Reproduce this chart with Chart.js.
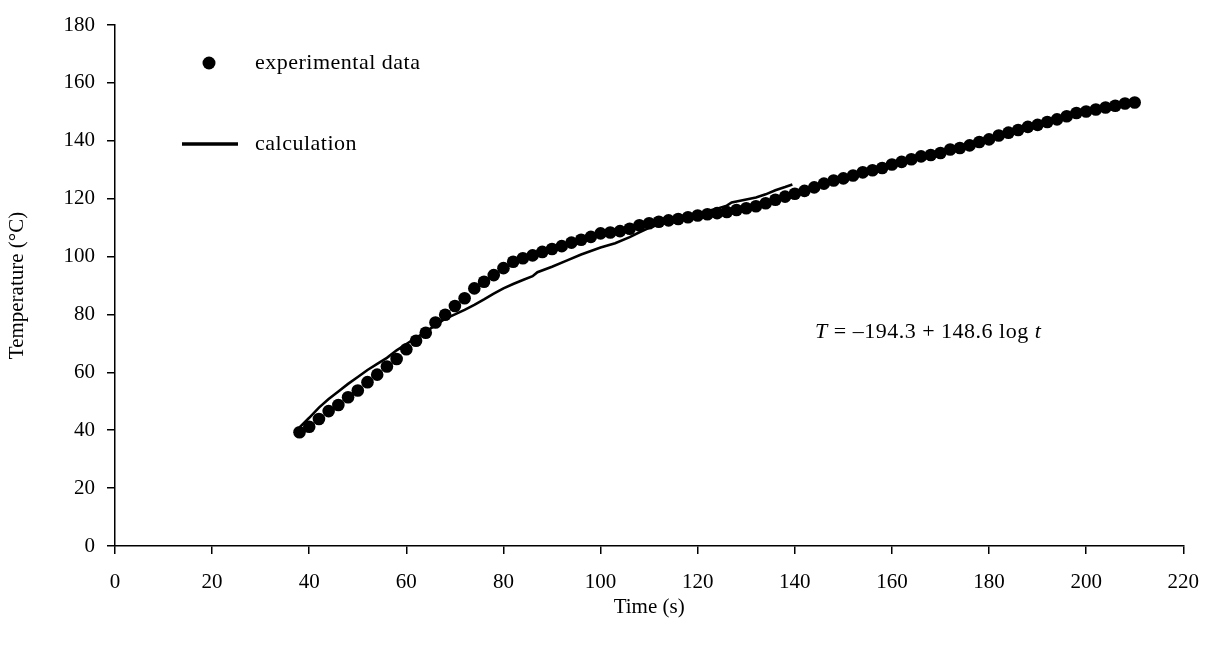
<!DOCTYPE html>
<html>
<head>
<meta charset="utf-8">
<script src="https://cdn.jsdelivr.net/npm/chart.js@4.4.1/dist/chart.umd.min.js"></script>
<style>
  html, body { margin: 0; padding: 0; background: #fff; }
  #wrap { width: 1215px; height: 646px; position: relative; }
</style>
</head>
<body>
<div id="wrap"><canvas id="tempChart"></canvas></div>
<script>
// experimental data (s, °C)
const expTime = [38, 40, 42, 44, 46, 48, 50, 52, 54, 56, 58, 60, 62, 64, 66, 68, 70, 72, 74, 76,
  78, 80, 82, 84, 86, 88, 90, 92, 94, 96, 98, 100, 102, 104, 106, 108, 110, 112, 114, 116,
  118, 120, 122, 124, 126, 128, 130, 132, 134, 136, 138, 140, 142, 144, 146, 148, 150, 152, 154, 156,
  158, 160, 162, 164, 166, 168, 170, 172, 174, 176, 178, 180, 182, 184, 186, 188, 190, 192, 194, 196,
  198, 200, 202, 204, 206, 208, 210];
const expTemp = [39.3, 41.2, 43.9, 46.6, 48.7, 51.4, 53.7, 56.6, 59.2, 62.0, 64.6, 68.0, 70.9, 73.7, 77.2, 79.9, 82.9, 85.6, 89.0, 91.3,
  93.6, 96.0, 98.2, 99.4, 100.4, 101.6, 102.6, 103.6, 104.8, 105.8, 106.8, 108.0, 108.3, 108.8, 109.6, 110.8, 111.5, 112.0, 112.5, 113.0,
  113.6, 114.2, 114.6, 115.0, 115.4, 116.1, 116.7, 117.4, 118.4, 119.6, 120.7, 121.7, 122.7, 123.9, 125.2, 126.3, 127.0, 128.0, 129.1, 129.8,
  130.6, 131.8, 132.7, 133.6, 134.6, 135.1, 135.8, 137.0, 137.5, 138.4, 139.6, 140.5, 141.8, 142.8, 143.7, 144.8, 145.5, 146.5, 147.4, 148.5,
  149.6, 150.1, 150.8, 151.5, 152.1, 152.9, 153.2];

// calculation curve
const calcTime = [38, 40, 42, 44, 46, 48, 50, 52, 54, 56, 58, 60, 62, 64, 66, 68, 70, 72, 74, 76,
  78, 80, 82, 84, 86, 87, 90, 93, 96, 100, 103, 106, 108, 110, 112, 114, 116, 118, 120, 122,
  124, 126, 127, 130, 132, 134, 136, 138, 139.5];
const calcTemp = [41.0, 44.3, 47.8, 50.8, 53.4, 56.0, 58.4, 60.8, 62.9, 65.0, 67.6, 69.8, 71.9, 74.0, 76.3, 78.5, 80.0, 81.6, 83.3, 85.2,
  87.2, 89.0, 90.5, 91.9, 93.2, 94.6, 96.5, 98.6, 100.7, 103.1, 104.6, 106.7, 108.4, 109.9, 111.1, 112.1, 113.0, 114.0, 114.9, 115.7,
  116.5, 117.6, 118.7, 119.7, 120.4, 121.5, 122.9, 124.0, 124.9];

const xTicks = [0, 20, 40, 60, 80, 100, 120, 140, 160, 180, 200, 220];
const yTicks = [0, 20, 40, 60, 80, 100, 120, 140, 160, 180];

const FONT = 'Liberation Serif, "Times New Roman", serif';

// legend + fitted equation, drawn inside the plot
const extras = {
  id: 'extras',
  afterDraw(chart) {
    const ctx = chart.ctx;
    const a = chart.chartArea;
    ctx.save();
    ctx.fillStyle = '#000';
    ctx.strokeStyle = '#000';
    // dot entry
    ctx.beginPath();
    ctx.arc(a.left + 94, a.top + 38, 6.5, 0, Math.PI * 2);
    ctx.fill();
    // line entry
    ctx.lineWidth = 3.3;
    ctx.beginPath();
    ctx.moveTo(a.left + 67, a.top + 119);
    ctx.lineTo(a.left + 123, a.top + 119);
    ctx.stroke();

    ctx.letterSpacing = '0.5px';
    ctx.font = '22px ' + FONT;
    ctx.textBaseline = 'alphabetic';
    ctx.textAlign = 'left';
    ctx.fillText('experimental data', a.left + 140, a.top + 44);
    ctx.fillText('calculation', a.left + 140, a.top + 125);

    // T = -194.3 + 148.6 log t
    let x = a.left + 700;
    const y = a.top + 313;
    const parts = [
      ['italic ', 'T'],
      ['', ' = \u2013194.3 + 148.6 log '],
      ['italic ', 't']
    ];
    parts.forEach(([style, txt]) => {
      ctx.font = style + '22px ' + FONT;
      ctx.fillText(txt, x, y);
      x += ctx.measureText(txt).width;
    });
    ctx.restore();
  }
};

const ctx = document.getElementById('tempChart').getContext('2d');
new Chart(ctx, {
  type: 'scatter',
  data: {
    datasets: [
      {
        label: 'experimental data',
        data: expTime.map((t, i) => ({ x: t, y: expTemp[i] })),
        backgroundColor: '#000',
        borderWidth: 0,
        pointRadius: 6.3,
        pointHoverRadius: 6.3,
        showLine: false,
        order: 2
      },
      {
        label: 'calculation',
        data: calcTime.map((t, i) => ({ x: t, y: calcTemp[i] })),
        borderColor: '#000',
        borderWidth: 2.6,
        pointRadius: 0,
        showLine: true,
        tension: 0,
        order: 1
      }
    ]
  },
  options: {
    responsive: true,
    maintainAspectRatio: false,
    animation: false,
    devicePixelRatio: 1,
    layout: { padding: { top: 25, right: 27, left: 0, bottom: 0 } },
    plugins: {
      legend: { display: false },
      tooltip: { enabled: false }
    },
    scales: {
      x: {
        type: 'linear',
        min: 0,
        max: 220,
        afterFit(scale) { scale.height = 100; },
        afterBuildTicks(scale) { scale.ticks = xTicks.map(v => ({ value: v })); },
        border: { color: '#000', width: 1.5 },
        grid: { drawOnChartArea: false, drawTicks: true, tickLength: 8, color: '#000', lineWidth: 1.5 },
        ticks: { color: '#000', font: { family: FONT, size: 21 }, padding: 16, maxRotation: 0 },
        title: { display: true, text: 'Time (s)', color: '#000', font: { family: FONT, size: 21 }, padding: { top: 0, bottom: 26 } }
      },
      y: {
        type: 'linear',
        min: 0,
        max: 180,
        afterFit(scale) { scale.width = 115; },
        afterBuildTicks(scale) { scale.ticks = yTicks.map(v => ({ value: v })); },
        border: { color: '#000', width: 1.5 },
        grid: { drawOnChartArea: false, drawTicks: true, tickLength: 8, color: '#000', lineWidth: 1.5 },
        ticks: { color: '#000', font: { family: FONT, size: 21 }, padding: 12 },
        title: { display: true, text: 'Temperature (\u00B0C)', color: '#000', font: { family: FONT, size: 21 }, padding: { top: 5, bottom: 0 } }
      }
    }
  },
  plugins: [extras]
});
</script>
</body>
</html>
